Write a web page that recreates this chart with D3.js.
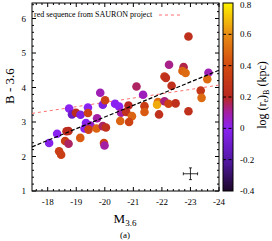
<!DOCTYPE html>
<html lang="en">
<head>
    <meta charset="UTF-8">
    <title>B - 3.6 vs M3.6</title>
    <script src="https://d3js.org/d3.v7.min.js"></script>
    <style>
        body, html { margin: 0; padding: 0; background: #fff; }
        svg { display: block; }
        text { font-family: "Liberation Serif", "Times New Roman", serif; }
    </style>
</head>
<body>
<script>
    // galaxy data
    const mag = [-18.05, -18.33, -18.40, -18.47, -18.61, -18.66, -18.73, -18.73, -18.75, -18.85,
                 -18.99, -19.14, -19.15, -19.41, -19.41, -19.29, -19.34, -19.43, -19.50, -19.43,
                 -19.73, -19.71, -19.84, -19.93, -20.01, -19.93, -20.04, -19.97, -19.99, -20.36,
                 -20.50, -20.57, -20.54, -20.75, -22.93, -22.25, -22.76, -22.72, -22.83, -22.09,
                 -22.14, -23.63, -23.59, -22.34, -21.11, -21.34, -23.36, -23.39, -20.83, -21.86,
                 -21.83, -22.09, -22.23, -22.48, -21.39, -21.39, -21.90, -20.95, -20.85, -22.93];
    const bminus = [2.39, 2.66, 2.15, 2.05, 2.45, 2.73, 2.74, 2.37, 3.39, 3.22,
                    3.27, 2.54, 3.21, 3.42, 3.26, 2.81, 2.97, 2.90, 2.90, 2.78,
                    3.11, 2.81, 3.85, 3.50, 3.63, 2.88, 2.84, 2.39, 2.32, 3.53,
                    3.45, 3.27, 3.03, 3.29, 5.48, 4.66, 4.59, 4.48, 4.42, 4.32,
                    4.28, 4.43, 4.24, 4.05, 4.03, 3.79, 3.91, 3.70, 3.48, 3.58,
                    3.50, 3.60, 3.53, 3.54, 3.46, 3.29, 3.22, 3.17, 3.00, 3.31];
    const logRe = [-0.02, 0.0, 0.33, 0.33, 0.33, 0.22, 0.22, 0.15, 0.0, -0.12,
                   0.22, 0.45, -0.05, 0.0, 0.35, 0.0, 0.0, 0.0, 0.05, 0.35,
                   0.1, 0.48, 0.08, -0.05, 0.35, 0.15, 0.25, 0.35, 0.1, 0.0,
                   0.0, 0.1, 0.48, 0.25, 0.25, 0.12, 0.17, 0.48, 0.5, 0.3,
                   0.25, 0.08, 0.5, 0.25, 0.15, 0.07, 0.28, 0.5, 0.2, 0.5,
                   0.66, 0.13, 0.35, 0.25, 0.32, 0.45, 0.25, 0.48, 0.35, 0.25];

    const xTicks = [-18, -19, -20, -21, -22, -23, -24];
    const yTicks = [1, 2, 3, 4, 5, 6];
    const cTicks = [-0.4, -0.2, 0, 0.2, 0.4, 0.6, 0.8];

    // fitted line and SAURON red sequence (end values at the plot edges)
    const fitEnds = [2.28, 4.5];
    const sauronEnds = [3.25, 4.07];
    // typical error bar
    const errBar = { m: -23, c: 1.5, dm: 0.25, dc: 0.17 };

    const width = 272, height = 241;
    const L = 32, R = 219, T = 3, B = 191;

    const svg = d3.select("body").append("svg")
        .attr("width", width).attr("height", height);

    const x = d3.scaleLinear().domain([-17.45, -24]).range([L, R]);
    const y = d3.scaleLinear().domain([1, 6.45]).range([B, T]);

    const palStops = [-0.4, -0.2, 0, 0.1, 0.2, 0.4, 0.6, 0.8];
    const palCols = ["#1c0828", "#5518a8", "#8a22f2", "#a41ea4", "#b82820", "#d24a10", "#e88c14", "#fff200"];
    const col = d3.scaleLinear().domain(palStops).range(palCols).clamp(true);

    // frame
    svg.append("rect").attr("x", L).attr("y", T).attr("width", R - L).attr("height", B - T)
        .attr("fill", "none").attr("stroke", "#000").attr("stroke-width", 1);

    // ticks, inward on all four sides
    const xMinor = d3.range(-17.6, -24.01, -0.2);
    const yMinor = d3.range(1, 6.41, 0.2);
    const tickG = svg.append("g").attr("stroke", "#000").attr("stroke-width", 1);
    xMinor.forEach(v => {
        const major = Math.abs(v - Math.round(v)) < 1e-6;
        const len = major ? 4 : 2;
        tickG.append("line").attr("x1", x(v)).attr("x2", x(v)).attr("y1", B).attr("y2", B - len);
        tickG.append("line").attr("x1", x(v)).attr("x2", x(v)).attr("y1", T).attr("y2", T + len);
    });
    yMinor.forEach(v => {
        const major = Math.abs(v - Math.round(v)) < 1e-6;
        const len = major ? 4 : 2;
        tickG.append("line").attr("y1", y(v)).attr("y2", y(v)).attr("x1", L).attr("x2", L + len);
        tickG.append("line").attr("y1", y(v)).attr("y2", y(v)).attr("x1", R).attr("x2", R - len);
    });

    svg.selectAll(".xl").data(xTicks).enter().append("text")
        .attr("x", d => x(d)).attr("y", 205).attr("text-anchor", "middle")
        .attr("font-size", 9).text(d => d);
    svg.selectAll(".yl").data(yTicks).enter().append("text")
        .attr("x", 26).attr("y", d => y(d) + 3).attr("text-anchor", "end")
        .attr("font-size", 9).text(d => d);

    // lines
    const clip = svg.append("clipPath").attr("id", "pc").append("rect")
        .attr("x", L).attr("y", T).attr("width", R - L).attr("height", B - T);
    const xs = x.domain();
    svg.append("line")
        .attr("x1", x(xs[0])).attr("y1", y(sauronEnds[0]))
        .attr("x2", x(xs[1])).attr("y2", y(sauronEnds[1]))
        .attr("stroke", "#ff6f6f").attr("stroke-width", 1).attr("stroke-dasharray", "3,3");

    // points
    const pts = mag.map((m, i) => ({ m: m, c: bminus[i], r: logRe[i] }));
    svg.append("g").attr("clip-path", "url(#pc)")
        .selectAll("circle").data(pts).enter().append("circle")
        .attr("cx", d => x(d.m)).attr("cy", d => y(d.c)).attr("r", 4.3)
        .attr("fill", d => col(d.r));

    svg.append("line")
        .attr("x1", x(xs[0])).attr("y1", y(fitEnds[0]))
        .attr("x2", x(xs[1])).attr("y2", y(fitEnds[1]))
        .attr("stroke", "#000").attr("stroke-width", 1.2).attr("stroke-dasharray", "4,2");

    // error cross
    const eg = svg.append("g").attr("stroke", "#000").attr("stroke-width", 0.8);
    eg.append("line").attr("x1", x(errBar.m - errBar.dm)).attr("x2", x(errBar.m + errBar.dm))
        .attr("y1", y(errBar.c)).attr("y2", y(errBar.c));
    eg.append("line").attr("x1", x(errBar.m)).attr("x2", x(errBar.m))
        .attr("y1", y(errBar.c - errBar.dc)).attr("y2", y(errBar.c + errBar.dc));
    [errBar.m - errBar.dm, errBar.m + errBar.dm].forEach(v =>
        eg.append("line").attr("x1", x(v)).attr("x2", x(v))
            .attr("y1", y(errBar.c) - 1.5).attr("y2", y(errBar.c) + 1.5));
    [errBar.c - errBar.dc, errBar.c + errBar.dc].forEach(v =>
        eg.append("line").attr("y1", y(v)).attr("y2", y(v))
            .attr("x1", x(errBar.m) - 1.5).attr("x2", x(errBar.m) + 1.5));

    // legend
    svg.append("text").attr("x", 34).attr("y", 17).attr("font-size", 8)
        .text("red sequence from SAURON project");
    svg.append("line").attr("x1", 159).attr("x2", 183).attr("y1", 15).attr("y2", 15)
        .attr("stroke", "#ff6f6f").attr("stroke-width", 1).attr("stroke-dasharray", "3,3");

    // axis titles
    svg.append("text").attr("transform", "translate(14,86) rotate(-90)")
        .attr("text-anchor", "middle").attr("font-size", 13).text("B - 3.6");
    const xt = svg.append("text").attr("x", 125).attr("y", 223).attr("text-anchor", "middle")
        .attr("font-size", 13);
    xt.append("tspan").text("M");
    xt.append("tspan").attr("font-size", 9).attr("dy", 3).text("3.6");
    svg.append("text").attr("x", 125).attr("y", 238).attr("text-anchor", "middle")
        .attr("font-size", 9).text("(a)");

    // colour bar
    const cbL = 223, cbR = 233;
    const cy = d3.scaleLinear().domain([-0.4, 0.8]).range([B, T]);
    const grad = svg.append("defs").append("linearGradient").attr("id", "cbg")
        .attr("x1", 0).attr("y1", 1).attr("x2", 0).attr("y2", 0);
    d3.range(0, 1.0001, 0.02).forEach(t => {
        grad.append("stop").attr("offset", t).attr("stop-color", col(-0.4 + 1.2 * t));
    });
    svg.append("rect").attr("x", cbL).attr("y", T).attr("width", cbR - cbL).attr("height", B - T)
        .attr("fill", "url(#cbg)").attr("stroke", "#000").attr("stroke-width", 1);
    cTicks.slice(1, -1).forEach(v => {
        svg.append("line").attr("x1", cbL).attr("x2", cbR).attr("y1", cy(v)).attr("y2", cy(v))
            .attr("stroke", "#000").attr("stroke-width", 1).attr("stroke-dasharray", "3,2.5");
    });
    svg.selectAll(".cl").data(cTicks).enter().append("text")
        .attr("x", 240).attr("y", d => Math.max(cy(d) + 3, 8)).attr("font-size", 9).text(d => d);

    const ct = svg.append("text").attr("transform", "translate(266,95) rotate(-90)")
        .attr("text-anchor", "middle").attr("font-size", 12);
    ct.append("tspan").text("log (r");
    ct.append("tspan").attr("font-size", 8).attr("dy", 2).text("e");
    ct.append("tspan").attr("dy", -2).text(")");
    ct.append("tspan").attr("font-size", 8).attr("dy", 3).text("B");
    ct.append("tspan").attr("dy", -3).text(" (kpc)");
</script>
</body>
</html>
